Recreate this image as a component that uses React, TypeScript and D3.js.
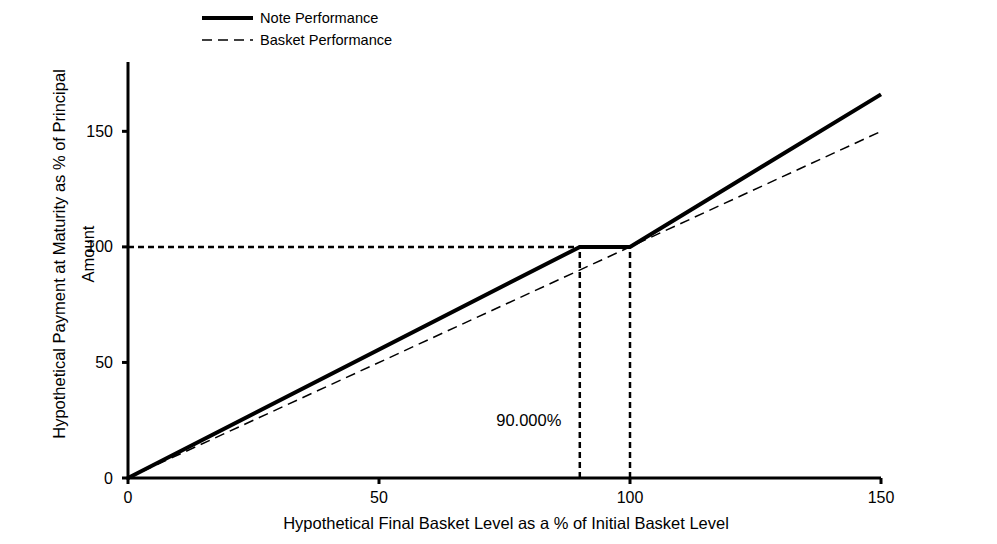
import React from "react";
import * as d3 from "d3";

const noteX = [0, 90, 100, 150];
const noteY = [0, 100, 100, 166];
const basketX = [0, 150];
const basketY = [0, 150];
const xTicks = [0, 50, 100, 150];
const yTicks = [0, 50, 100, 150];
const barrierLevel = 90;
const initialLevel = 100;
const principalLevel = 100;
const barrierLabel = "90.000%";

const W = 997;
const H = 544;
const M = { left: 128, right: 116, top: 62, bottom: 66 };

export default function App() {
  const x = d3.scaleLinear().domain([0, 150]).range([M.left, W - M.right]);
  const y = d3.scaleLinear().domain([0, 180]).range([H - M.bottom, M.top]);
  const line = d3
    .line<[number, number]>()
    .x((d) => x(d[0]))
    .y((d) => y(d[1]));
  const notePts = noteX.map((v, i) => [v, noteY[i]] as [number, number]);
  const basketPts = basketX.map((v, i) => [v, basketY[i]] as [number, number]);
  const font = "'Liberation Sans', Arial, sans-serif";
  const tickFont = "'Liberation Sans', Arial, sans-serif";
  return (
    <svg width={W} height={H} style={{ position: "absolute", left: 0, top: 0, background: "#fff" }}>
      {/* legend */}
      <line x1={202} x2={253} y1={18} y2={18} stroke="#000" strokeWidth={4} />
      <text x={260} y={23} fontFamily={font} fontSize={14.6}>Note Performance</text>
      <line x1={202} x2={253} y1={40} y2={40} stroke="#000" strokeWidth={1.5} strokeDasharray="10,6" />
      <text x={260} y={45} fontFamily={font} fontSize={14.6}>Basket Performance</text>

      {/* reference dashed lines */}
      <g stroke="#000" strokeWidth={2.5} strokeDasharray="6,4" fill="none">
        <line x1={x(0)} x2={x(barrierLevel)} y1={y(principalLevel)} y2={y(principalLevel)} />
        <line x1={x(barrierLevel)} x2={x(barrierLevel)} y1={y(0)} y2={y(principalLevel)} />
        <line x1={x(initialLevel)} x2={x(initialLevel)} y1={y(0)} y2={y(principalLevel)} />
      </g>

      {/* series */}
      <path d={line(basketPts) || ""} fill="none" stroke="#000" strokeWidth={1.5} strokeDasharray="10,6" />
      <path d={line(notePts) || ""} fill="none" stroke="#000" strokeWidth={4} strokeLinejoin="miter" />

      {/* axes */}
      <line x1={x(0)} x2={x(0)} y1={y(0) + 1.5} y2={M.top} stroke="#000" strokeWidth={3} />
      <line x1={x(0) - 1.5} x2={x(150)} y1={y(0)} y2={y(0)} stroke="#000" strokeWidth={3} />
      {yTicks.map((t) => (
        <g key={"y" + t}>
          <line x1={x(0) - 6} x2={x(0)} y1={y(t)} y2={y(t)} stroke="#000" strokeWidth={3} />
          <text x={x(0) - 15} y={y(t) + 5.5} textAnchor="end" fontFamily={tickFont} fontSize={16}>
            {t}
          </text>
        </g>
      ))}
      {xTicks.map((t) => (
        <g key={"x" + t}>
          <line x1={x(t)} x2={x(t)} y1={y(0)} y2={y(0) + 6} stroke="#000" strokeWidth={3} />
          <text x={x(t)} y={y(0) + 25} textAnchor="middle" fontFamily={tickFont} fontSize={16}>
            {t}
          </text>
        </g>
      ))}

      <text x={x(barrierLevel) - 51} y={y(0) - 52} textAnchor="middle" fontFamily={font} fontSize={16.5}>
        {barrierLabel}
      </text>

      {/* axis titles */}
      <text
        transform={`translate(65,254) rotate(-90)`}
        textAnchor="middle"
        fontFamily={font}
        fontSize={16.5}
      >
        Hypothetical Payment at Maturity as % of Principal
      </text>
      <text
        transform={`translate(94,254) rotate(-90)`}
        textAnchor="middle"
        fontFamily={font}
        fontSize={16.5}
      >
        Amount
      </text>
      <text x={506} y={529} textAnchor="middle" fontFamily={font} fontSize={16.5}>
        Hypothetical Final Basket Level as a % of Initial Basket Level
      </text>
    </svg>
  );
}
